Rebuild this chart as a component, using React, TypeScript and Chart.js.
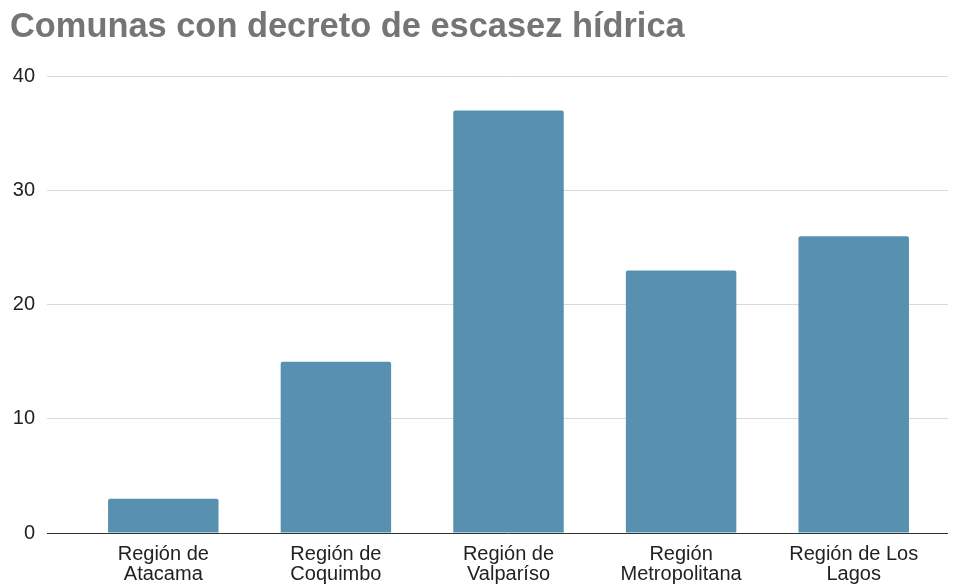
import React, { useEffect, useRef } from "react";
import { Chart, registerables } from "chart.js";

Chart.register(...registerables);

const categories: string[][] = [
  ["Región de", "Atacama"],
  ["Región de", "Coquimbo"],
  ["Región de", "Valparíso"],
  ["Región", "Metropolitana"],
  ["Región de Los", "Lagos"],
];
const values: number[] = [3, 15, 37, 23, 26];
const titleText = "Comunas con decreto de escasez hídrica";
const FONT = "Arial, 'Liberation Sans', sans-serif";

export default function App() {
  const ref = useRef<HTMLCanvasElement | null>(null);
  useEffect(() => {
    if (!ref.current) return;
    const chart = new Chart(ref.current, {
      type: "bar",
      data: {
        labels: categories,
        datasets: [
          {
            data: values,
            backgroundColor: "#5891b0",
            borderRadius: 2,
            borderSkipped: "bottom",
            barPercentage: 0.64,
            categoryPercentage: 1,
          },
        ],
      },
      options: {
        responsive: false,
        animation: false,
        layout: { padding: { left: 10, right: 10, top: 0, bottom: 0 } },
        plugins: {
          legend: { display: false },
          tooltip: { enabled: false },
          title: {
            display: true,
            text: titleText,
            align: "start",
            color: "#757575",
            font: { family: FONT, size: 34.4, weight: "bold", lineHeight: 1.2 },
            padding: { top: 7, bottom: 28 },
          },
        },
        scales: {
          x: {
            grid: { display: false, drawTicks: false },
            border: { display: false },
            ticks: {
              color: "#222222",
              font: { family: FONT, size: 20, lineHeight: 0.97 },
              padding: 12,
              maxRotation: 0,
              autoSkip: false,
            },
            afterFit: (axis: any) => {
              axis.height = 52;
            },
          },
          y: {
            min: 0,
            max: 40,
            ticks: {
              stepSize: 10,
              color: "#222222",
              font: { family: FONT, size: 20 },
              padding: 12,
            },
            grid: {
              color: (ctx: any) => (ctx.tick && ctx.tick.value === 0 ? "#333333" : "#d9d9d9"),
              tickLength: 30,
              lineWidth: 1,
            },
            border: { display: false },
            afterFit: (axis: any) => {
              axis.width = 67;
            },
          },
          y2: {
            position: "right",
            min: 0,
            max: 40,
            ticks: { display: false, stepSize: 10 },
            grid: {
              drawOnChartArea: false,
              color: (ctx: any) => (ctx.tick && ctx.tick.value === 0 ? "#333333" : "#d9d9d9"),
              tickLength: 8,
            },
            border: { display: false },
            afterFit: (axis: any) => {
              axis.width = 8;
            },
          },
        },
      },
    } as any);
    return () => chart.destroy();
  }, []);
  return (
    <div style={{ position: "fixed", left: 0, top: 0, width: 958, height: 585, background: "#fff" }}>
      <canvas ref={ref} width={958} height={585} style={{ display: "block" }} />
    </div>
  );
}
